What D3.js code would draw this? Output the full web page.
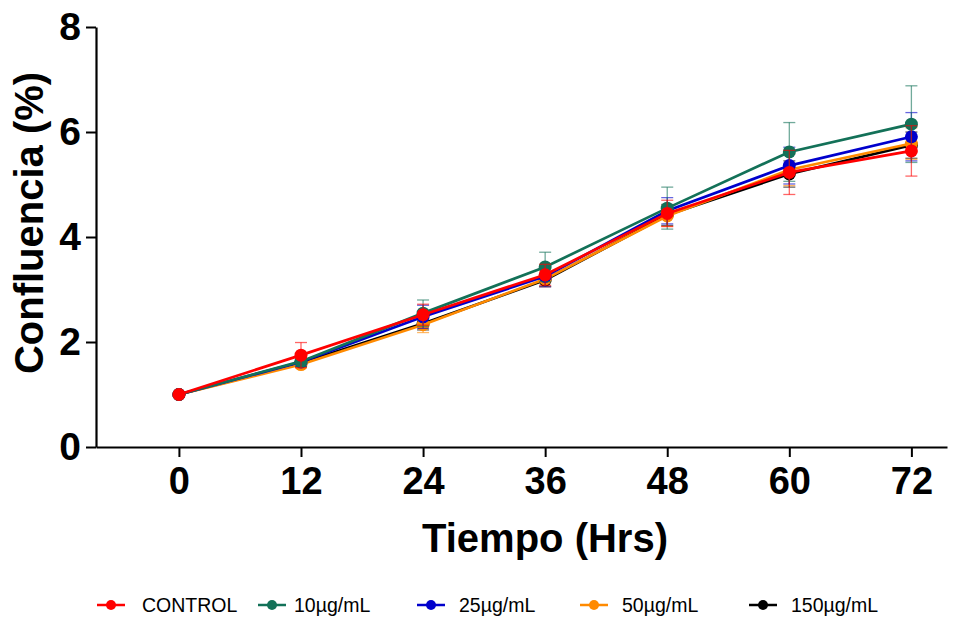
<!DOCTYPE html>
<html><head><meta charset="utf-8">
<script src="https://cdn.jsdelivr.net/npm/d3@7"></script>
<style>body{margin:0;background:#fff;} svg{display:block;}</style>
</head><body>
<svg id="c" width="960" height="617"></svg>
<script>
const hours = [0, 12, 24, 36, 48, 60, 72];
const seriesNames = ["CONTROL", "10µg/mL", "25µg/mL", "50µg/mL", "150µg/mL"];
const seriesColors = ["#ff0000", "#137158", "#0000cc", "#ff8a00", "#000000"];
const controlMean = [1.0, 1.75, 2.52, 3.28, 4.45, 5.23, 5.64];
const controlSem  = [0, 0.24, 0.2, 0.2, 0.25, 0.42, 0.48];
const c10Mean = [1.0, 1.63, 2.55, 3.43, 4.55, 5.62, 6.15];
const c10Sem  = [0, 0.1, 0.25, 0.28, 0.4, 0.56, 0.73];
const c25Mean = [1.0, 1.62, 2.48, 3.25, 4.5, 5.36, 5.91];
const c25Sem  = [0, 0.08, 0.22, 0.2, 0.25, 0.35, 0.46];
const c50Mean = [1.0, 1.57, 2.33, 3.2, 4.4, 5.28, 5.78];
const c50Sem  = [0, 0.06, 0.15, 0.15, 0.2, 0.3, 0.3];
const c150Mean = [1.0, 1.6, 2.35, 3.18, 4.42, 5.2, 5.75];
const c150Sem  = [0, 0.06, 0.12, 0.12, 0.2, 0.25, 0.25];
const yTicks = [0, 2, 4, 6, 8];

const means = [controlMean, c10Mean, c25Mean, c50Mean, c150Mean];
const sems = [controlSem, c10Sem, c25Sem, c50Sem, c150Sem];
const FONT = "Liberation Sans, Arial, sans-serif";

const svg = d3.select("#c");
const x = d3.scaleLinear().domain([-8.15, 75.5]).range([96, 947]);
const y = d3.scaleLinear().domain([0, 8]).range([447, 27]);

// axes
const yAxis = svg.append("g").attr("transform", "translate(96,0)")
  .call(d3.axisLeft(y).tickValues(yTicks).tickSize(10).tickSizeOuter(0).tickFormat(d3.format("d")));
yAxis.select(".domain").attr("stroke", "#000").attr("stroke-width", 2.2);
yAxis.selectAll(".tick line").attr("stroke-width", 2);
yAxis.selectAll(".tick text").attr("font-family", FONT)
  .attr("font-weight", "bold").attr("font-size", 39).attr("fill", "#000").attr("x", -15);

const xAxis = svg.append("g").attr("transform", "translate(0,447)")
  .call(d3.axisBottom(x).tickValues(hours).tickSize(10).tickSizeOuter(0).tickFormat(d3.format("d")));
xAxis.select(".domain").attr("stroke", "#000").attr("stroke-width", 2.2);
xAxis.selectAll(".tick line").attr("stroke-width", 2);
xAxis.selectAll(".tick text").attr("font-family", FONT)
  .attr("font-weight", "bold").attr("font-size", 38).attr("fill", "#000").attr("y", 20);

svg.append("text").attr("x", 545).attr("y", 552).attr("text-anchor", "middle")
  .attr("font-family", FONT).attr("font-weight", "bold")
  .attr("font-size", 40).text("Tiempo (Hrs)");
svg.append("text").attr("transform", "translate(43,223) rotate(-90)").attr("text-anchor", "middle")
  .attr("font-family", FONT).attr("font-weight", "bold")
  .attr("font-size", 40).text("Confluencia (%)");

const line = d3.line().x(d => x(d.h)).y(d => y(d.m));
const order = [4, 3, 2, 1, 0];
order.forEach(i => {
  const pts = hours.map((h, j) => ({h, m: means[i][j], s: sems[i][j]}));
  const g = svg.append("g");
  const col = seriesColors[i];
  pts.filter(p => p.s > 0).forEach(p => {
    g.append("line").attr("x1", x(p.h)).attr("x2", x(p.h)).attr("y1", y(p.m - p.s)).attr("y2", y(p.m + p.s))
      .attr("stroke", col).attr("stroke-width", 1.3).attr("stroke-opacity", 0.6);
    [p.m - p.s, p.m + p.s].forEach(v => {
      g.append("line").attr("x1", x(p.h) - 6).attr("x2", x(p.h) + 6).attr("y1", y(v)).attr("y2", y(v))
        .attr("stroke", col).attr("stroke-width", 1.3).attr("stroke-opacity", 0.6);
    });
  });
  g.append("path").datum(pts).attr("d", line).attr("fill", "none").attr("stroke", col).attr("stroke-width", 2.7);
  g.selectAll("circle").data(pts).join("circle").attr("cx", d => x(d.h)).attr("cy", d => y(d.m))
    .attr("r", 6.5).attr("fill", col);
});

// legend
const legendX = [111, 272, 431, 594, 763];
const legendTextX = [142, 294, 459, 622, 791];
seriesNames.forEach((n, i) => {
  const g = svg.append("g").attr("transform", `translate(${legendX[i]},605)`);
  g.append("line").attr("x1", -14).attr("x2", 14).attr("stroke", seriesColors[i]).attr("stroke-width", 2.5);
  g.append("circle").attr("r", 5).attr("fill", seriesColors[i]);
  g.append("text").attr("x", legendTextX[i] - legendX[i]).attr("y", 7)
    .attr("font-family", FONT).attr("font-size", 19.5).text(n);
});
</script>
</body></html>
